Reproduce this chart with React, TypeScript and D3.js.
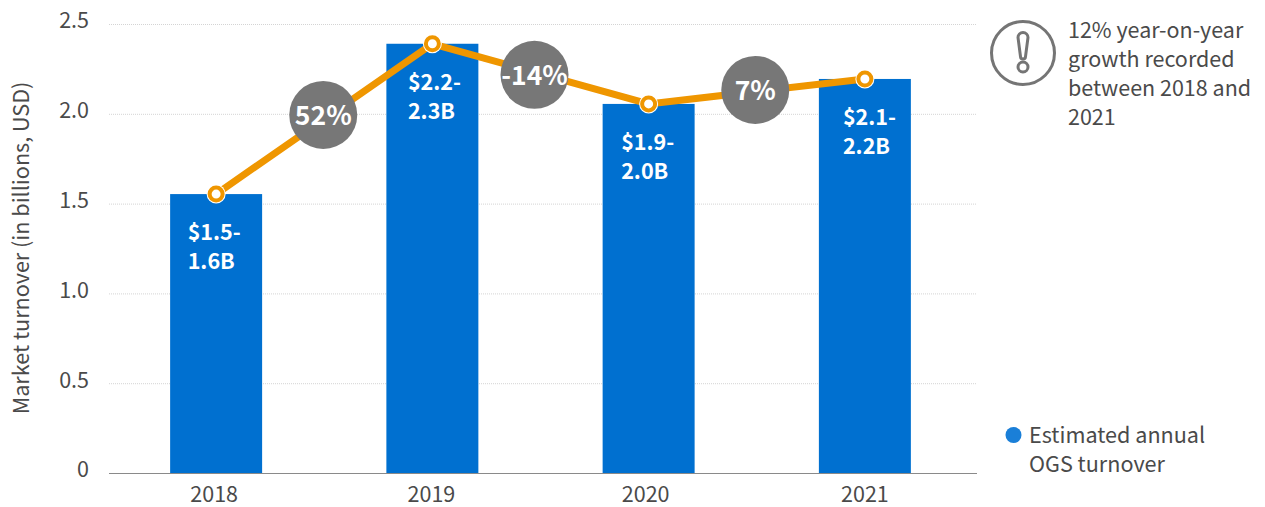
import React, { useEffect, useRef } from 'react';
import * as d3 from 'd3';

const years = ['2018', '2019', '2020', '2021'];
const turnover = [1.553, 2.39, 2.055, 2.194];
const barLabels = [
  ['$1.5-', '1.6B'],
  ['$2.2-', '2.3B'],
  ['$1.9-', '2.0B'],
  ['$2.1-', '2.2B'],
];
const growthLabels = ['52%', '-14%', '7%'];
const yTicks = [0, 0.5, 1, 1.5, 2, 2.5];
const noteLines = ['12% year-on-year', 'growth recorded', 'between 2018 and', '2021'];
const legendLines = ['Estimated annual', 'OGS turnover'];

const FONT = '"Noto Sans CJK SC", "Noto Sans", sans-serif';
const TEXT = '#4a4a4a';

// hand placed nudges, the labels and bubbles are not exactly centred in the original
const barLabelNudge = [17.5, 21.5, 18.5, 24];
const xTickNudge = [-2, -1, -3, 0];
const bubbleNudge = [
  [-1, -4],
  [-6, 1],
  [-1.5, -1.5],
];

const App = () => {
  const ref = useRef<SVGSVGElement>(null);

  useEffect(() => {
    const width = 1265;
    const height = 507;

    const svg = d3.select(ref.current);
    svg.selectAll('*').remove();
    svg.attr('font-family', FONT);

    const x = d3.scaleBand().domain(years).range([108, 973]).paddingInner(0.5746).paddingOuter(0.2873);
    const y = d3.scaleLinear().domain([0, 2.5]).range([473, 24]);
    const cx = (i: number) => x(years[i])! + x.bandwidth() / 2;

    // Gridlines
    svg
      .append('g')
      .selectAll('line')
      .data(yTicks.filter(d => d > 0))
      .enter()
      .append('line')
      .attr('x1', 109)
      .attr('x2', 977)
      .attr('y1', d => y(d) + 0.5)
      .attr('y2', d => y(d) + 0.5)
      .attr('stroke', '#d4d4d4')
      .attr('stroke-width', 1)
      .attr('stroke-dasharray', '1 1');

    // Y axis labels
    const yAxis = svg
      .append('g')
      .attr('transform', 'translate(89,0)')
      .call(
        d3
          .axisLeft(y)
          .tickValues(yTicks)
          .tickSize(0)
          .tickPadding(0)
          .tickFormat(d => (d === 0 ? '0' : d3.format('.1f')(d as number)))
      );
    yAxis.select('.domain').remove();
    yAxis
      .selectAll('text')
      .attr('font-family', FONT)
      .attr('font-size', 21.5)
      .attr('fill', TEXT)
      .attr('dy', '0')
      .attr('y', -2)
      .attr('dominant-baseline', 'middle');

    // Y axis title
    svg
      .append('text')
      .attr('transform', 'translate(29,248) rotate(-90)')
      .attr('text-anchor', 'middle')
      .attr('font-size', 21.6)
      .attr('fill', TEXT)
      .text('Market turnover (in billions, USD)');

    // Bars
    svg
      .selectAll('rect.bar')
      .data(turnover)
      .enter()
      .append('rect')
      .attr('class', 'bar')
      .attr('x', (_, i) => x(years[i])!)
      .attr('y', d => y(d))
      .attr('width', x.bandwidth())
      .attr('height', d => y(0) - y(d))
      .attr('fill', '#0070d0');

    // X axis
    const xAxis = svg
      .append('g')
      .attr('transform', `translate(0,${y(0)})`)
      .call(d3.axisBottom(x).tickSize(0).tickPadding(0));
    xAxis.select('.domain').remove();
    xAxis
      .selectAll('text')
      .attr('font-family', FONT)
      .attr('font-size', 21.5)
      .attr('fill', TEXT)
      .attr('dy', '0')
      .attr('x', (_, i) => xTickNudge[i])
      .attr('y', 29);
    svg
      .append('line')
      .attr('x1', 109)
      .attr('x2', 977)
      .attr('y1', y(0) + 0.5)
      .attr('y2', y(0) + 0.5)
      .attr('stroke', '#8a8a8a')
      .attr('stroke-width', 1);

    // Bar labels
    barLabels.forEach((lines, i) => {
      const top = y(turnover[i]);
      lines.forEach((line, k) => {
        svg
          .append('text')
          .attr('x', x(years[i])! + barLabelNudge[i])
          .attr('y', top + 46 + k * 29)
          .attr('font-size', 21.6)
          .attr('font-weight', 700)
          .attr('fill', '#fff')
          .text(line);
      });
    });

    // Line
    const line = d3
      .line<number>()
      .x((_, i) => cx(i))
      .y(d => y(d));
    svg
      .append('path')
      .attr('d', line(turnover))
      .attr('fill', 'none')
      .attr('stroke', '#ef9600')
      .attr('stroke-width', 7);

    // Points
    svg
      .selectAll('circle.pt-halo')
      .data(turnover)
      .enter()
      .append('circle')
      .attr('cx', (_, i) => cx(i))
      .attr('cy', d => y(d))
      .attr('r', 9.5)
      .attr('fill', '#fff');
    svg
      .selectAll('circle.pt')
      .data(turnover)
      .enter()
      .append('circle')
      .attr('cx', (_, i) => cx(i))
      .attr('cy', d => y(d))
      .attr('r', 6.5)
      .attr('fill', '#fff')
      .attr('stroke', '#ef9600')
      .attr('stroke-width', 4);

    // Growth bubbles sit about midway along each line segment
    growthLabels.forEach((label, i) => {
      const mx = (cx(i) + cx(i + 1)) / 2 + bubbleNudge[i][0];
      const my = (y(turnover[i]) + y(turnover[i + 1])) / 2 + bubbleNudge[i][1];
      const g = svg.append('g').attr('transform', `translate(${mx},${my})`);
      g.append('circle').attr('r', 34).attr('fill', '#777777');
      g.append('text')
        .attr('text-anchor', 'middle')
        .attr('y', 10)
        .attr('font-size', 26.5)
        .attr('font-weight', 700)
        .attr('fill', '#fff')
        .text(label);
    });

    // Note icon
    const icon = svg.append('g').attr('transform', 'translate(1023,53)');
    icon
      .append('circle')
      .attr('r', 31.5)
      .attr('fill', 'none')
      .attr('stroke', '#757575')
      .attr('stroke-width', 3);
    icon
      .append('path')
      .attr('d', 'M-5,-15.5 a5,5 0 0 1 10,0 L2.5,3.5 a2.5,2.5 0 0 1 -5,0 Z')
      .attr('fill', 'none')
      .attr('stroke', '#757575')
      .attr('stroke-width', 3);
    icon
      .append('circle')
      .attr('cy', 14)
      .attr('r', 5)
      .attr('fill', 'none')
      .attr('stroke', '#757575')
      .attr('stroke-width', 3);

    // Note text
    noteLines.forEach((t, i) => {
      svg
        .append('text')
        .attr('x', 1068)
        .attr('y', 38 + i * 29)
        .attr('font-size', 21.5)
        .attr('fill', TEXT)
        .text(t);
    });

    // Legend
    svg.append('circle').attr('cx', 1013.5).attr('cy', 435).attr('r', 8).attr('fill', '#1a7fd8');
    legendLines.forEach((t, i) => {
      svg
        .append('text')
        .attr('x', 1029)
        .attr('y', 443 + i * 29)
        .attr('font-size', 21.6)
        .attr('fill', TEXT)
        .text(t);
    });

    svg.attr('width', width).attr('height', height);
  }, []);

  return <svg ref={ref} style={{ position: 'absolute', left: 0, top: 0, display: 'block' }} />;
};

export default App;
